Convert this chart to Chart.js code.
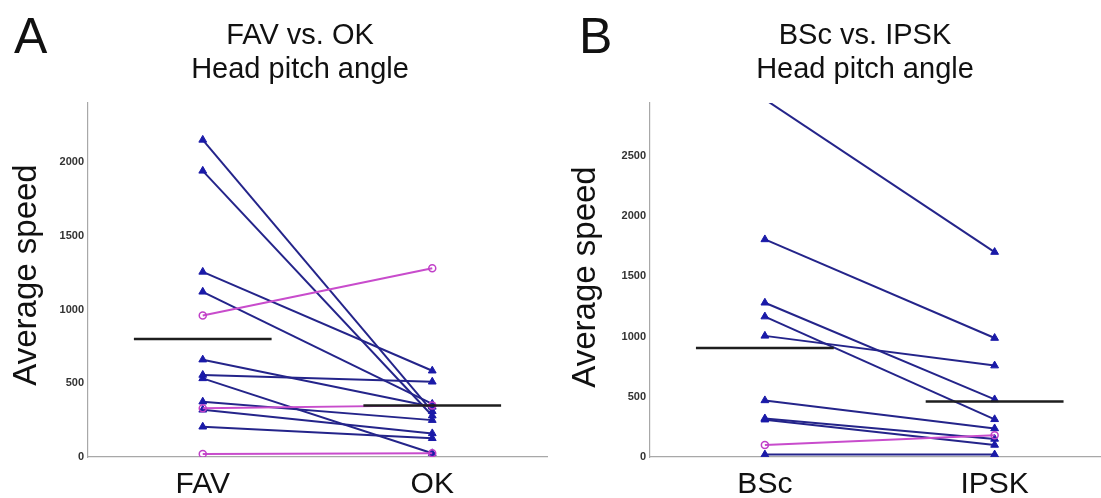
<!DOCTYPE html>
<html>
<head>
<meta charset="utf-8">
<script src="https://cdn.jsdelivr.net/npm/chart.js@4.4.0/dist/chart.umd.min.js"></script>
<style>
  html, body { margin:0; padding:0; width:1101px; height:498px; overflow:hidden; background:#fff; }
  .box { position:absolute; top:0; height:498px; }
  #boxA { left:0; width:560px; }
  #boxB { left:555px; width:560px; }
</style>
</head>
<body>
<div class="box" id="boxA"><canvas id="chartA" width="560" height="498"></canvas></div>
<div class="box" id="boxB"><canvas id="chartB" width="560" height="498"></canvas></div>
<script>
// ---------- Panel A data ----------
const catsA = ['FAV', 'OK'];
const titleA = ['FAV vs. OK', 'Head pitch angle'];
const blueFavA = [2150, 1940, 1255, 1120, 660, 556, 533, 375, 320, 205];
const blueOkA  = [ 310,  280,  585,  360, 340, 510,  25, 250, 160, 127];
const magFavA  = [960, 330, 20];
const magOkA   = [1280, 350, 25];
const meansA   = [800, 350];
const yTicksA  = [0, 500, 1000, 1500, 2000];
const yMaxA    = 2400;

// ---------- Panel B data ----------
const catsB = ['BSc', 'IPSK'];
const titleB = ['BSc vs. IPSK', 'Head pitch angle'];
const blueFavB = [2970, 1807, 1281, 1166, 1006, 470, 320, 310, 20];
const blueOkB  = [1702,  988,  478,  313,  759, 237, 150, 100, 20];
const magFavB  = [99];
const magOkB   = [180];
const meansB   = [905, 460];
const yTicksB  = [0, 500, 1000, 1500, 2000, 2500];
const yMaxB    = 2940;

const yTitle = 'Average speed';
const FONT = "'Liberation Sans', Arial, sans-serif";

function buildDatasets(bf, bo, mf, mo, means) {
  const ds = [];
  ds.push({ data: [{x: 1 - 0.3, y: means[0]}, {x: 1 + 0.3, y: means[0]}],
            borderColor: '#1e1e1e', borderWidth: 2.5, pointRadius: 0, showLine: true });
  ds.push({ data: [{x: 2 - 0.3, y: means[1]}, {x: 2 + 0.3, y: means[1]}],
            borderColor: '#1e1e1e', borderWidth: 2.5, pointRadius: 0, showLine: true });
  for (let i = 0; i < mf.length; i++) {
    ds.push({ data: [{x: 1, y: mf[i]}, {x: 2, y: mo[i]}],
              borderColor: '#c84ccc', borderWidth: 2, showLine: true,
              pointStyle: 'circle', pointRadius: 3.5, pointBorderWidth: 1.5,
              pointBorderColor: '#c040c8', pointBackgroundColor: 'rgba(255,255,255,0)' });
  }
  for (let i = 0; i < bf.length; i++) {
    ds.push({ data: [{x: 1, y: bf[i]}, {x: 2, y: bo[i]}],
              borderColor: '#24248a', borderWidth: 2, showLine: true,
              pointStyle: 'triangle', pointRadius: 4.5, pointBorderWidth: 1,
              pointBorderColor: '#1a1aa8', pointBackgroundColor: '#1a1aa8' });
  }
  return ds;
}

function textPlugin(letter, letterX, titleLines, titleX, yTitleX, yTitleY) {
  return {
    id: 'txt',
    afterDraw(chart) {
      const c = chart.ctx;
      c.save();
      c.fillStyle = '#111';
      c.textAlign = 'left';
      c.textBaseline = 'alphabetic';
      c.font = '50px ' + FONT;
      c.fillText(letter, letterX, 53);
      c.textAlign = 'center';
      c.font = '29px ' + FONT;
      c.fillText(titleLines[0], titleX, 44);
      c.fillText(titleLines[1], titleX, 78);
      c.translate(yTitleX, yTitleY);
      c.rotate(-Math.PI / 2);
      c.textBaseline = 'middle';
      c.font = '33px ' + FONT;
      c.fillText(yTitle, 0, 0);
      c.restore();
    }
  };
}

function makeChart(id, cats, bf, bo, mf, mo, means, yTicks, yMax, yAxisW, rightPad, plugin) {
  return new Chart(document.getElementById(id), {
    type: 'scatter',
    data: { datasets: buildDatasets(bf, bo, mf, mo, means) },
    options: {
      responsive: false,
      animation: false,
      layout: { padding: { left: 0, right: rightPad, top: 103, bottom: 0 } },
      plugins: { legend: { display: false }, tooltip: { enabled: false } },
      scales: {
        x: {
          type: 'linear', min: 0.5, max: 2.5,
          afterBuildTicks(s) { s.ticks = cats.map((c, i) => ({ value: i + 1 })); },
          afterFit(s) { s.height = 41; },
          ticks: { callback: (v) => cats[Math.round(v) - 1] || '', font: { family: FONT, size: 30 },
                   color: '#111', padding: 10, maxRotation: 0, autoSkip: false },
          grid: { drawOnChartArea: false, drawTicks: false },
          border: { color: '#a8a8a8', width: 1.2 }
        },
        y: {
          type: 'linear', min: 0, max: yMax,
          afterBuildTicks(s) { s.ticks = yTicks.map(v => ({ value: v })); },
          afterFit(s) { s.width = yAxisW; },
          ticks: { callback: (v) => String(v), font: { family: FONT, size: 11, weight: 'bold' },
                   color: '#333', padding: 4 },
          grid: { drawOnChartArea: false, drawTicks: false },
          border: { color: '#a8a8a8', width: 1.2 }
        }
      }
    },
    plugins: [plugin]
  });
}

makeChart('chartA', catsA, blueFavA, blueOkA, magFavA, magOkA, meansA, yTicksA, yMaxA, 88, 13,
          textPlugin('A', 14, titleA, 300, 27, 275));
makeChart('chartB', catsB, blueFavB, blueOkB, magFavB, magOkB, meansB, yTicksB, yMaxB, 95, 4,
          textPlugin('B', 24, titleB, 310, 31, 277));
</script>
</body>
</html>
